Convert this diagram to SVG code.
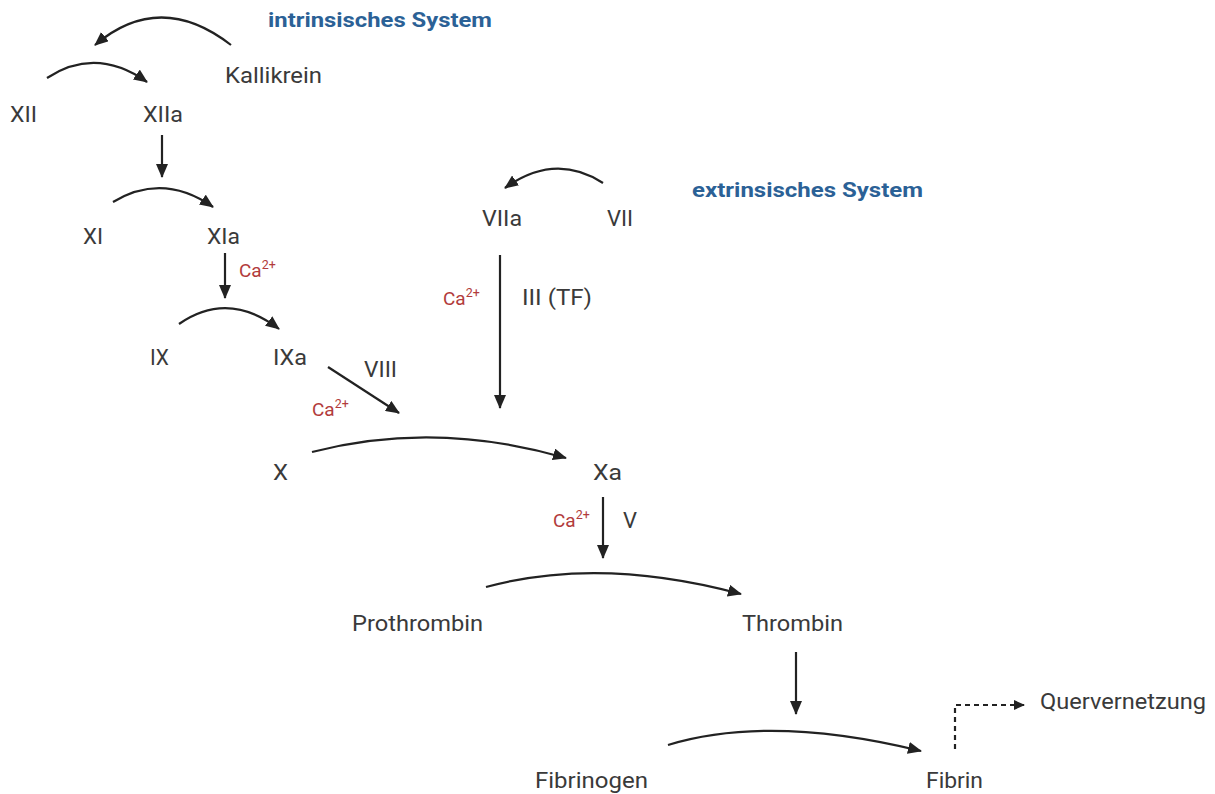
<svg xmlns="http://www.w3.org/2000/svg" width="1215" height="794" viewBox="0 0 1215 794">
<style>
.t{font-family:Roboto,"Liberation Sans",sans-serif;font-size:22px;fill:#3a3a3a;text-anchor:middle}
.h{font-family:Roboto,"Liberation Sans",sans-serif;font-size:20px;font-weight:bold;fill:#2b6196;text-anchor:middle}
.ca{font-family:Roboto,"Liberation Sans",sans-serif;font-size:19px;fill:#b23b3b}
.sup{font-size:12.5px}
.c{fill:none;stroke:#222;stroke-width:2.2}
.d{fill:none;stroke:#222;stroke-width:2.2;stroke-dasharray:5 4}
</style>
<defs>
<marker id="ah" markerUnits="userSpaceOnUse" markerWidth="14" markerHeight="12" refX="13" refY="6" orient="auto">
<path d="M0,0 L14,6 L0,12 z" fill="#222"/>
</marker>
<marker id="ahs" markerUnits="userSpaceOnUse" markerWidth="11" markerHeight="10" refX="11" refY="5" orient="auto">
<path d="M0,0 L11,5 L0,10 z" fill="#222"/>
</marker>
</defs>
<rect width="1215" height="794" fill="#fff"/>
<g id="connectors">
<path class="c" d="M231,45 Q160,-10 95,45" marker-end="url(#ah)"/>
<path class="c" d="M47,78 Q96,46 147,82" marker-end="url(#ah)"/>
<path class="c" d="M162,135 L162,177" marker-end="url(#ah)"/>
<path class="c" d="M113,202 Q163,172 213,207" marker-end="url(#ah)"/>
<path class="c" d="M225,253 L225,298" marker-end="url(#ah)"/>
<path class="c" d="M179,324 Q228,290 279,329" marker-end="url(#ah)"/>
<path class="c" d="M328,367 L399,413" marker-end="url(#ah)"/>
<path class="c" d="M603,183 Q555,152 505,188" marker-end="url(#ah)"/>
<path class="c" d="M500,255 L500,408" marker-end="url(#ah)"/>
<path class="c" d="M312,452 Q435,420 566,458" marker-end="url(#ah)"/>
<path class="c" d="M603,497 L603,558" marker-end="url(#ah)"/>
<path class="c" d="M486,587 Q600,556 741,594" marker-end="url(#ah)"/>
<path class="c" d="M796,652 L796,714" marker-end="url(#ah)"/>
<path class="c" d="M668,745 Q770,714 921,751" marker-end="url(#ah)"/>
<path class="d" d="M955,749 L955,705 L1025,705" marker-end="url(#ahs)"/>
</g>
<g id="titles">
<text class="h" x="380" y="27" textLength="224" lengthAdjust="spacingAndGlyphs">intrinsisches System</text>
<text class="h" x="807.5" y="197" textLength="231" lengthAdjust="spacingAndGlyphs">extrinsisches System</text>
</g>
<g id="n-kallikrein"><text class="t" x="273.5" y="83" textLength="97" lengthAdjust="spacingAndGlyphs">Kallikrein</text></g>
<g id="n-xii"><text class="t" x="23.5" y="122" textLength="27" lengthAdjust="spacingAndGlyphs">XII</text></g>
<g id="n-xiia"><text class="t" x="163" y="122" textLength="40" lengthAdjust="spacingAndGlyphs">XIIa</text></g>
<g id="n-xi"><text class="t" x="93" y="244" textLength="20" lengthAdjust="spacingAndGlyphs">XI</text></g>
<g id="n-xia"><text class="t" x="223.5" y="244" textLength="33" lengthAdjust="spacingAndGlyphs">XIa</text></g>
<g id="n-ix"><text class="t" x="159.5" y="365" textLength="19" lengthAdjust="spacingAndGlyphs">IX</text></g>
<g id="n-ixa"><text class="t" x="290" y="365" textLength="34" lengthAdjust="spacingAndGlyphs">IXa</text></g>
<g id="n-viii"><text class="t" x="380.5" y="377" textLength="33" lengthAdjust="spacingAndGlyphs">VIII</text></g>
<g id="n-viia"><text class="t" x="502" y="226" textLength="40" lengthAdjust="spacingAndGlyphs">VIIa</text></g>
<g id="n-vii"><text class="t" x="620" y="226" textLength="26" lengthAdjust="spacingAndGlyphs">VII</text></g>
<g id="n-iii"><text class="t" x="557" y="305" textLength="70" lengthAdjust="spacingAndGlyphs">III (TF)</text></g>
<g id="n-x"><text class="t" x="280.5" y="480" textLength="15" lengthAdjust="spacingAndGlyphs">X</text></g>
<g id="n-xa"><text class="t" x="607.5" y="480" textLength="29" lengthAdjust="spacingAndGlyphs">Xa</text></g>
<g id="n-v"><text class="t" x="630" y="528" textLength="14" lengthAdjust="spacingAndGlyphs">V</text></g>
<g id="n-prothrombin"><text class="t" x="417.5" y="631" textLength="131" lengthAdjust="spacingAndGlyphs">Prothrombin</text></g>
<g id="n-thrombin"><text class="t" x="792.5" y="631" textLength="101" lengthAdjust="spacingAndGlyphs">Thrombin</text></g>
<g id="n-fibrinogen"><text class="t" x="591.5" y="788" textLength="113" lengthAdjust="spacingAndGlyphs">Fibrinogen</text></g>
<g id="n-fibrin"><text class="t" x="954.5" y="788" textLength="57" lengthAdjust="spacingAndGlyphs">Fibrin</text></g>
<g id="n-quervernetzung"><text class="t" x="1123" y="709" textLength="166" lengthAdjust="spacingAndGlyphs">Quervernetzung</text></g>
<g id="calcium">
<text class="ca" x="239" y="277">Ca<tspan class="sup" dy="-8">2+</tspan></text>
<text class="ca" x="443" y="305">Ca<tspan class="sup" dy="-8">2+</tspan></text>
<text class="ca" x="312" y="416">Ca<tspan class="sup" dy="-8">2+</tspan></text>
<text class="ca" x="553" y="527">Ca<tspan class="sup" dy="-8">2+</tspan></text>
</g>
</svg>
